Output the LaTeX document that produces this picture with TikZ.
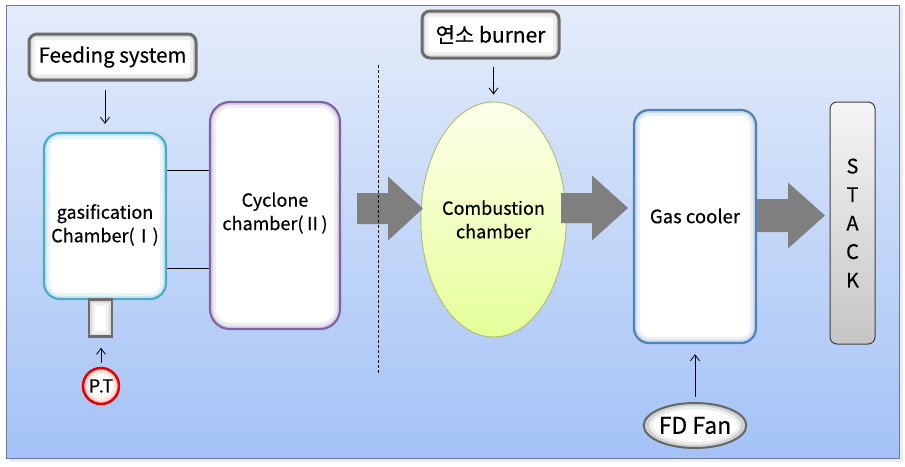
\documentclass[tikz,border=0pt]{standalone}
\usepackage{fontspec}
\setmainfont{Noto Sans CJK KR}[RawFeature={embolden=0.4}]
\usetikzlibrary{arrows.meta,shapes.geometric,calc}
\definecolor{bgtop}{HTML}{E4ECFA}
\definecolor{bgbot}{HTML}{A4C2F6}
\definecolor{frameC}{HTML}{6A7A98}
\definecolor{tealC}{HTML}{4BACC6}
\definecolor{purpC}{HTML}{8064A2}
\definecolor{blueC}{HTML}{4F81BD}
\definecolor{greenC}{HTML}{A8C070}
\definecolor{arrC}{HTML}{7F7F7F}
\tikzset{
  glow/.style n args={2}{path picture={
      \draw[rounded corners=#2, line width=12pt, #1, opacity=.12]
        (path picture bounding box.south west) rectangle (path picture bounding box.north east);
      \draw[rounded corners=#2, line width=6pt, #1, opacity=.18]
        (path picture bounding box.south west) rectangle (path picture bounding box.north east);}},
  ellglow/.style n args={3}{path picture={
      \draw[line width=12pt, #1, opacity=.15] (path picture bounding box.center) ellipse [x radius=#2, y radius=#3];
      \draw[line width=6pt, #1, opacity=.25] (path picture bounding box.center) ellipse [x radius=#2, y radius=#3];}},
  chamber/.style n args={3}{draw=#1, line width=2.2pt, fill=white, rounded corners=#2,
      inner sep=0pt, minimum width=#3, glow={#1}{#2}},
  greybox/.style={draw=gray!85!black, line width=3pt, fill=white, rounded corners=8pt,
      inner sep=0pt, glow={gray}{8pt}},
  boxtext/.style={font=\fontsize{18}{23.5}\selectfont, align=center, inner sep=0pt},
  thinarr/.style={-{Straight Barb[length=6pt,width=9pt]}, line width=0.8pt},
}
\newcommand{\bigarrow}[6]{% tail x, head x, tip x, y mid, body half, head half
  \fill[arrC] (#1,#4-#5) -- (#2,#4-#5) -- (#2,#4-#6) -- (#3,#4) -- (#2,#4+#6) -- (#2,#4+#5) -- (#1,#4+#5) -- cycle;}
\begin{document}
\begin{tikzpicture}[x=1pt,y=-1pt]
\useasboundingbox (0,0) rectangle (905,466);
% background frame
\fill[gray!15] (9,8) rectangle (903,462);
\shade[top color=bgtop, bottom color=bgbot, draw=frameC, line width=0.8pt] (6,5) rectangle (899,458);

% nodes
\node[greybox, minimum width=167pt, minimum height=46pt, font=\fontsize{20.5}{24}\selectfont] (feed) at (112.5,57) {Feeding system};
\node[greybox, minimum width=137pt, minimum height=47pt, font=\fontsize{21}{24}\selectfont] (burn) at (490.5,34.5) {연소 burner};

\node[chamber={tealC}{16pt}{122pt}, minimum height=166pt] (gas) at (105,216) {};
\node[boxtext] (gastxt) at (105,225) {gasification\\Chamber(Ⅰ)};

\node[chamber={purpC}{20pt}{130pt}, minimum height=227pt] (cyc) at (275,215.5) {};
\node[boxtext] (cyctxt) at (275,213) {Cyclone\\chamber(Ⅱ)};

\node[ellipse, draw=greenC, line width=0.9pt, top color=green!5!yellow!8, bottom color=green!25!yellow!40!white,
      minimum width=129pt, minimum height=235pt, inner sep=0pt, boxtext] (comb) at (493.5,219.5) {Combustion\\chamber};

\node[chamber={blueC}{15pt}{122pt}, minimum height=233pt] (cool) at (695,226.5) {};
\node[boxtext, font=\fontsize{18.5}{23}\selectfont] (cooltxt) at (695,216) {Gas cooler};

\node[draw=black!75, line width=1pt, rounded corners=7pt, top color=gray!8, bottom color=gray!45,
      minimum width=45pt, minimum height=242pt, inner sep=0pt, align=center,
      font=\fontsize{20}{28.5}\selectfont] (stack) at (852.5,223) {S\\T\\A\\C\\K};

\node[draw=gray!85!black, line width=2.5pt, fill=white, minimum width=23pt, minimum height=37pt,
      inner sep=0pt, glow={gray}{0pt}] (port) at (100.5,318) {};

\node[circle, draw=red!90!black, line width=2.5pt, fill=white, ellglow={red!60}{18pt}{18pt},
      minimum size=36pt, inner sep=0pt, font=\fontsize{18}{20}\selectfont] (pt) at (101,386) {P\kern-1.5pt.\kern-1.5ptT};

\node[ellipse, draw=gray!80!black, line width=2pt, fill=white, ellglow={gray}{49pt}{22.5pt},
      minimum width=98pt, minimum height=45pt, inner sep=0pt, font=\fontsize{23}{26}\selectfont] (fd) at (695,425.5) {FD Fan};

% thin connectors
\draw[thinarr, shorten <=8pt, shorten >=8pt] (feed.south -| gas.north) -- (gas.north);
\draw[thinarr, shorten <=7pt, shorten >=7pt] (burn.south -| comb.north) -- (comb.north);
\draw[thinarr, shorten <=4pt, shorten >=10pt] (pt.north) -- (pt.north |- port.south);
\draw[thinarr, shorten <=5pt, shorten >=10pt] (fd.north) -- (fd.north |- cool.south);
\draw[line width=0.8pt] ([yshift=46pt]gas.east) -- ([yshift=46pt]gas.east -| cyc.west);
\draw[line width=0.8pt] ([yshift=-52pt]gas.east) -- ([yshift=-52pt]gas.east -| cyc.west);

% big flow arrows
\bigarrow{357}{388}{423}{208.5}{15.5}{32}
\bigarrow{561}{592}{628}{208}{15}{32.5}
\bigarrow{757}{788}{825}{215.5}{16.5}{33}

% dashed divider
\coordinate (d1) at (378,65);
\coordinate (d2) at (378,375);
\draw[line width=0.7pt, dash pattern=on 3pt off 2pt] (d1) -- (d2);
\end{tikzpicture}
\end{document}
